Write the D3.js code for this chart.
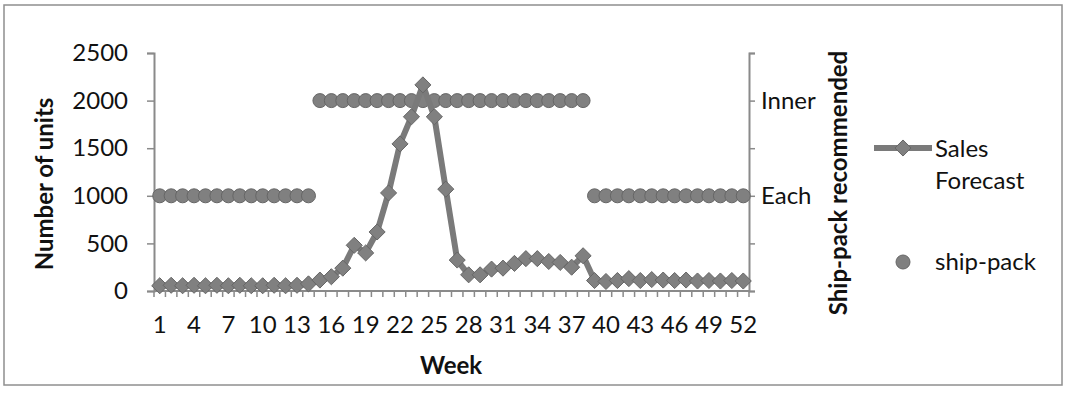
<!DOCTYPE html>
<html>
<head>
<meta charset="utf-8">
<script src="https://cdn.jsdelivr.net/npm/d3@7"></script>
<style>
  body { margin: 0; background: #fff; }
  svg { display: block; font-family: Lato, "Open Sans", sans-serif; }
</style>
</head>
<body>
<div id="chart"></div>
<script>
// weeks 1..52
const weeks = d3.range(1, 53);
const salesForecast = [55, 60, 55, 60, 55, 60, 55, 60, 55, 55, 60, 55, 60, 75,
  115, 150, 240, 480, 400, 620, 1030, 1545, 1830, 2165, 1830, 1070, 325, 170,
  170, 230, 240, 290, 340, 340, 310, 300, 250, 370, 110, 100, 110, 130, 110,
  120, 115, 110, 115, 105, 110, 105, 110, 105];
// 1 = Each, 2 = Inner
const shipPack = [1, 1, 1, 1, 1, 1, 1, 1, 1, 1, 1, 1, 1, 1,
  2, 2, 2, 2, 2, 2, 2, 2, 2, 2, 2, 2, 2, 2, 2, 2, 2, 2, 2, 2, 2, 2, 2, 2,
  1, 1, 1, 1, 1, 1, 1, 1, 1, 1, 1, 1, 1, 1];
const leftTicks = [0, 500, 1000, 1500, 2000, 2500];
const rightTicks = [0, 0.5, 1, 1.5, 2, 2.5];
const packLabels = { 1: "Each", 2: "Inner" };

const width = 1065, height = 394;
const plot = { left: 154, right: 749, top: 53, bottom: 291 };
const axisColor = "#8a8a8a";
const markColor = "#808080";
const markStroke = "#666";
const textColor = "#111";

const svg = d3.select("#chart").append("svg")
  .attr("width", width)
  .attr("height", height);

svg.append("rect")
  .attr("x", 4).attr("y", 5)
  .attr("width", 1058).attr("height", 380)
  .attr("fill", "#fff")
  .attr("stroke", "#8f8f8f")
  .attr("stroke-width", 1.5);

const x = d3.scaleBand().domain(weeks).range([plot.left, plot.right]).padding(0);
const y = d3.scaleLinear().domain([0, 2500]).range([plot.bottom, plot.top]);
const y2 = d3.scaleLinear().domain([0, 2.5]).range([plot.bottom, plot.top]);

// left axis
const gLeft = svg.append("g")
  .attr("transform", `translate(${plot.left},0)`)
  .call(d3.axisLeft(y).tickValues(leftTicks).tickSize(7).tickPadding(19)
    .tickFormat(d3.format("d")));

// right axis
const gRight = svg.append("g")
  .attr("transform", `translate(${plot.right},0)`)
  .call(d3.axisRight(y2).tickValues(rightTicks).tickSize(6).tickPadding(6)
    .tickFormat(d => packLabels[d] || ""));

// bottom axis: ticks at every band boundary, labels every 3rd week
const gBottom = svg.append("g")
  .attr("transform", `translate(0,${plot.bottom})`);
gBottom.append("line")
  .attr("x1", plot.left).attr("x2", plot.right)
  .attr("stroke", axisColor).attr("stroke-width", 2);
gBottom.selectAll("line.tick")
  .data(d3.range(0, 53))
  .enter().append("line")
  .attr("class", "tick")
  .attr("x1", i => plot.left + i * x.step())
  .attr("x2", i => plot.left + i * x.step())
  .attr("y1", 0).attr("y2", 6)
  .attr("stroke", axisColor).attr("stroke-width", 1.5);
gBottom.selectAll("text")
  .data(weeks.filter(w => (w - 1) % 3 === 0))
  .enter().append("text")
  .attr("x", d => x(d) + x.bandwidth() / 2)
  .attr("y", 42)
  .attr("text-anchor", "middle")
  .style("font-size", "24px")
  .style("fill", textColor)
  .text(d => d);

[gLeft, gRight].forEach(g => {
  g.select(".domain").attr("stroke", axisColor).attr("stroke-width", 2);
  g.selectAll(".tick line").attr("stroke", axisColor).attr("stroke-width", 1.5);
  g.selectAll(".tick text").style("font-size", "24px").style("fill", textColor)
    .style("font-family", "Lato, 'Open Sans', sans-serif");
});

// ship-pack points (right axis)
svg.append("g").selectAll("circle")
  .data(weeks)
  .enter().append("circle")
  .attr("cx", d => x(d) + x.bandwidth() / 2)
  .attr("cy", (d, i) => y2(shipPack[i]))
  .attr("r", 7)
  .attr("fill", markColor)
  .attr("stroke", markStroke)
  .attr("stroke-width", 1);

// sales forecast line + diamonds
const line = d3.line()
  .x(d => x(d) + x.bandwidth() / 2)
  .y((d, i) => y(salesForecast[i]));
svg.append("path")
  .datum(weeks)
  .attr("fill", "none")
  .attr("stroke", "#7a7a7a")
  .attr("stroke-width", 6)
  .attr("stroke-linejoin", "round")
  .attr("d", line);

const diamond = d3.symbol().type(d3.symbolDiamond2).size(165);
svg.append("g").selectAll("path")
  .data(weeks)
  .enter().append("path")
  .attr("transform", (d, i) => `translate(${x(d) + x.bandwidth() / 2},${y(salesForecast[i])})`)
  .attr("d", diamond)
  .attr("fill", markColor)
  .attr("stroke", markStroke)
  .attr("stroke-width", 1);

// axis titles
svg.append("text")
  .attr("transform", "translate(53,184) rotate(-90)")
  .attr("text-anchor", "middle")
  .style("font-size", "24px")
  .style("font-weight", "bold")
  .style("fill", textColor)
  .text("Number of units");

svg.append("text")
  .attr("x", 451).attr("y", 374)
  .attr("text-anchor", "middle")
  .style("font-size", "24px")
  .style("font-weight", "bold")
  .style("fill", textColor)
  .text("Week");

svg.append("text")
  .attr("transform", "translate(847,183) rotate(-90)")
  .attr("text-anchor", "middle")
  .style("font-size", "24px")
  .style("font-weight", "bold")
  .style("fill", textColor)
  .text("Ship-pack recommended");

// legend
const legend = svg.append("g");
legend.append("line")
  .attr("x1", 874).attr("x2", 932)
  .attr("y1", 148).attr("y2", 148)
  .attr("stroke", "#7a7a7a").attr("stroke-width", 6);
legend.append("path")
  .attr("transform", "translate(903,148)")
  .attr("d", diamond)
  .attr("fill", markColor).attr("stroke", markStroke);
legend.append("text")
  .attr("x", 935).attr("y", 157)
  .style("font-size", "24px").style("fill", textColor)
  .text("Sales");
legend.append("text")
  .attr("x", 935).attr("y", 189)
  .style("font-size", "24px").style("fill", textColor)
  .text("Forecast");
legend.append("circle")
  .attr("cx", 903).attr("cy", 262).attr("r", 7)
  .attr("fill", markColor).attr("stroke", markStroke);
legend.append("text")
  .attr("x", 935).attr("y", 270)
  .style("font-size", "24px").style("fill", textColor)
  .text("ship-pack");
</script>
</body>
</html>
